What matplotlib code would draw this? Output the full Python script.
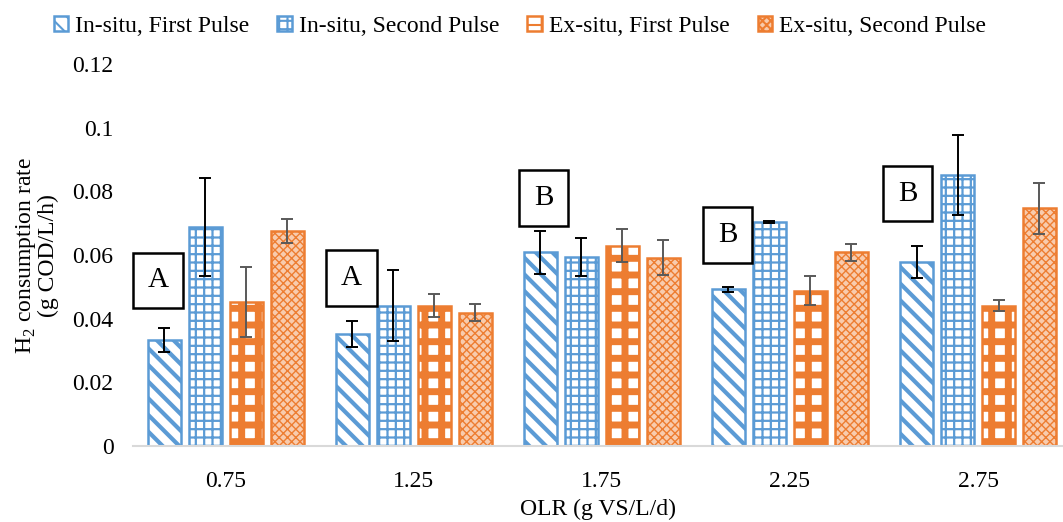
import matplotlib
matplotlib.use("Agg")
import matplotlib.pyplot as plt
import numpy as np

plt.rcParams['font.family'] = ['Liberation Serif', 'DejaVu Serif']
plt.rcParams['mathtext.fontset'] = 'custom'
plt.rcParams['mathtext.rm'] = 'Liberation Serif'

# data
olr = ['0.75', '1.25', '1.75', '2.25', '2.75']
series = ['In-situ, First Pulse', 'In-situ, Second Pulse', 'Ex-situ, First Pulse', 'Ex-situ, Second Pulse']
insitu_first = [0.0333, 0.0352, 0.0608, 0.0492, 0.0579]
insitu_second = [0.0689, 0.0441, 0.0593, 0.0704, 0.0852]
exsitu_first = [0.0453, 0.0441, 0.0629, 0.0488, 0.0441]
exsitu_second = [0.0675, 0.0419, 0.0592, 0.0608, 0.0747]
err_insitu_first = [0.0038, 0.0040, 0.0067, 0.0008, 0.0050]
err_insitu_second = [0.0154, 0.0112, 0.0060, 0.0003, 0.0125]
err_exsitu_first = [0.0110, 0.0035, 0.0052, 0.0046, 0.0018]
err_exsitu_second = [0.0038, 0.0027, 0.0056, 0.0026, 0.0080]
group_letters = ['A', 'A', 'B', 'B', 'B']
letter_y = [0.052, 0.0528, 0.0779, 0.0663, 0.0793]
letter_dx = [-0.359, -0.332, -0.311, -0.332, -0.375]

blue = '#5B9BD5'
orange = '#ED7D31'

fig = plt.figure(figsize=(10.63, 5.22), dpi=100)
ax = fig.add_axes([0.125, 0.1456, 0.875, 0.7318])

x = np.arange(len(olr))
step = 0.218
width = 0.176

vals = [insitu_first, insitu_second, exsitu_first, exsitu_second]
errs = [err_insitu_first, err_insitu_second, err_exsitu_first, err_exsitu_second]
styles = [
    dict(color=blue, face='white', hatch='\\\\', hlw=3.0, ecol='black'),
    dict(color=blue, face='white', hatch='++', hlw=1.6, ecol='black'),
    dict(color=orange, face='white', hatch='+', hlw=5.0, ecol='#595959'),
    dict(color=orange, face='#F8CBAD', hatch='xxxx', hlw=1.0, ecol='#595959'),
]

for i in range(4):
    st = styles[i]
    plt.rcParams['hatch.linewidth'] = st['hlw']
    bars = ax.bar(x + (i - 1.5) * step, vals[i], width, facecolor=st['face'],
                  edgecolor=st['color'], hatch=st['hatch'], linewidth=1.8,
                  label=series[i], zorder=2)
    for b in bars:
        try:
            b.set_hatch_linewidth(st['hlw'])
        except AttributeError:
            pass
    ax.errorbar(x + (i - 1.5) * step, vals[i], yerr=errs[i], fmt='none',
                ecolor=st['ecol'], elinewidth=1.4, capsize=4, capthick=1.4, zorder=3)

for k in range(len(olr)):
    ax.text(x[k] + letter_dx[k], letter_y[k], group_letters[k], fontsize=21,
            ha='center', va='center', zorder=4,
            bbox=dict(boxstyle='square,pad=0.5', facecolor='white',
                      edgecolor='black', linewidth=1.8))

ax.set_xlim(-0.4947, 4.452)
ax.set_ylim(0, 0.12)
ax.set_xticks(x)
ax.set_xticklabels(olr)
yt = [0, 0.02, 0.04, 0.06, 0.08, 0.1, 0.12]
ax.set_yticks(yt)
ax.set_yticklabels(['0', '0.02', '0.04', '0.06', '0.08', '0.1', '0.12'])
ax.tick_params(axis='both', length=0, labelsize=17)
ax.tick_params(axis='y', pad=14)
ax.tick_params(axis='x', pad=18)

for s in ['top', 'right', 'left']:
    ax.spines[s].set_visible(False)
ax.spines['bottom'].set_color('#D9D9D9')
ax.spines['bottom'].set_linewidth(1.5)

ax.set_xlabel('OLR (g VS/L/d)', fontsize=17, labelpad=5)
fig.text(0.034, 0.51, 'H$_2$ consumption rate\n(g COD/L/h)', rotation=90,
         fontsize=17, ha='center', va='center', linespacing=1.0)

plt.rcParams['hatch.linewidth'] = 1.5
leg = fig.legend(loc='upper center', bbox_to_anchor=(0.489, 1.01), ncol=4,
                 frameon=False, fontsize=17, handlelength=0.6, handleheight=0.6,
                 handletextpad=0.3, columnspacing=1.2)

fig.savefig('out.png', dpi=100)
